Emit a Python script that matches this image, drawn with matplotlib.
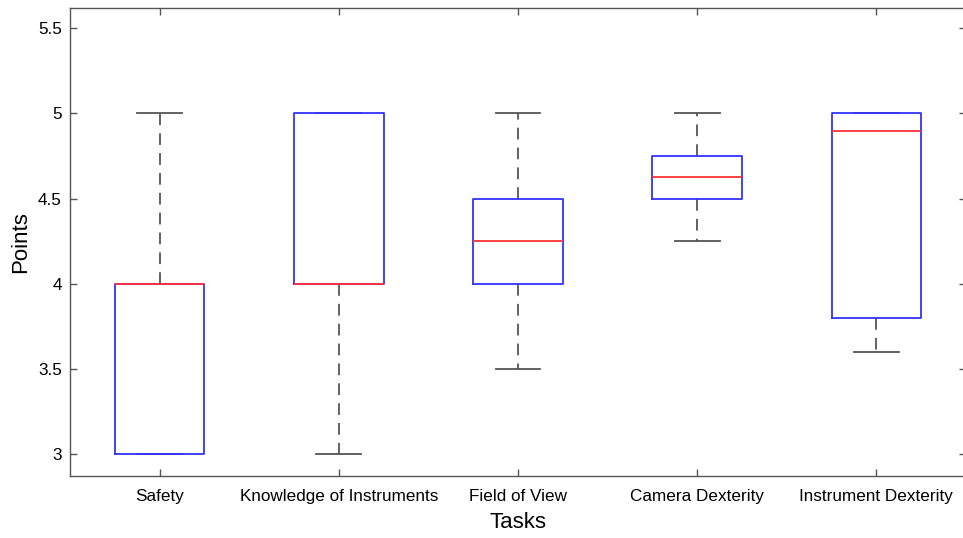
import matplotlib
matplotlib.use('Agg')
import matplotlib.pyplot as plt
from matplotlib.ticker import FuncFormatter

plt.rcParams['font.family'] = ['Liberation Sans', 'DejaVu Sans']

tasks = ['Safety', 'Knowledge of Instruments', 'Field of View',
         'Camera Dexterity', 'Instrument Dexterity']
whisker_low = [3.0, 3.0, 3.5, 4.25, 3.6]
q1 = [3.0, 4.0, 4.0, 4.5, 3.8]
medians = [4.0, 4.0, 4.25, 4.625, 4.9]
q3 = [4.0, 5.0, 4.5, 4.75, 5.0]
whisker_high = [5.0, 5.0, 5.0, 5.0, 5.0]
yticks = [3, 3.5, 4, 4.5, 5, 5.5]

stats = []
for i, name in enumerate(tasks):
    stats.append({'label': name, 'whislo': whisker_low[i], 'q1': q1[i],
                  'med': medians[i], 'q3': q3[i], 'whishi': whisker_high[i],
                  'fliers': []})

fig = plt.figure(figsize=(9.63, 5.38), dpi=100)
ax = fig.add_axes([0.0727, 0.1152, 0.9303, 0.8700])

ax.bxp(stats, widths=0.5, showfliers=False,
       boxprops=dict(color='#3333ff', lw=1.3, zorder=4),
       medianprops=dict(color='#ff3333', lw=1.3, zorder=5),
       whiskerprops=dict(color='#555555', lw=1.3, linestyle=(0, (6.5, 4.5)), zorder=2),
       capprops=dict(color='#555555', lw=1.3, zorder=2),
       capwidths=0.25)

ax.set_xlim(0.5, 5.5)
ax.set_ylim(2.87, 5.62)
ax.set_yticks(yticks)
ax.yaxis.set_major_formatter(FuncFormatter(lambda v, p: '%g' % v))
ax.set_xticks(range(1, len(tasks) + 1))
ax.set_xticklabels(tasks)

ax.tick_params(direction='in', top=True, right=True, length=5,
               width=1, color='#555555', labelsize=12.3)
ax.tick_params(axis='x', pad=9)
ax.tick_params(axis='y', pad=6)
for s in ax.spines.values():
    s.set_color('#555555')
    s.set_linewidth(1)

ax.set_xlabel('Tasks', fontsize=16, labelpad=6)
ax.set_ylabel('Points', fontsize=16, labelpad=5)

fig.savefig('out.png', dpi=100)
